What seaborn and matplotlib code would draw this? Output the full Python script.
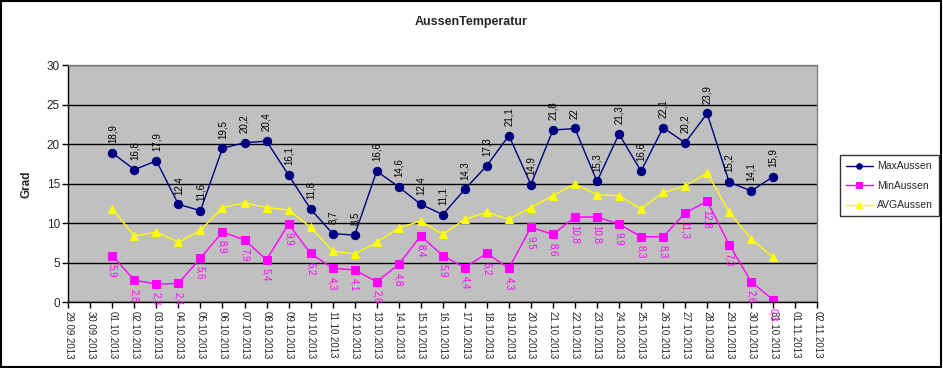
import numpy as np
import pandas as pd
import matplotlib
matplotlib.use("Agg")
import matplotlib.pyplot as plt
import matplotlib.dates as mdates
from matplotlib.patches import Rectangle
import seaborn as sns

# Tageswerte Oktober 2013
tage = pd.date_range("2013-10-01", "2013-10-31", freq="D")
max_aussen = [18.9, 16.8, 17.9, 12.4, 11.6, 19.5, 20.2, 20.4, 16.1, 11.8, 8.7, 8.5,
              16.6, 14.6, 12.4, 11.1, 14.3, 17.3, 21.1, 14.9, 21.8, 22.0, 15.3, 21.3,
              16.6, 22.1, 20.2, 23.9, 15.2, 14.1, 15.9]
min_aussen = [5.9, 2.8, 2.3, 2.4, 5.6, 8.9, 7.9, 5.4, 9.9, 6.2, 4.3, 4.1,
              2.6, 4.8, 8.4, 5.9, 4.4, 6.2, 4.3, 9.5, 8.6, 10.8, 10.8, 9.9,
              8.3, 8.3, 11.3, 12.8, 7.3, 2.6, 0.3]
avg_aussen = [11.8, 8.4, 8.9, 7.6, 9.1, 12.0, 12.6, 12.0, 11.7, 9.5, 6.5, 6.1,
              7.6, 9.4, 10.3, 8.6, 10.5, 11.4, 10.5, 12.0, 13.5, 15.0, 13.6, 13.5,
              11.8, 13.9, 14.7, 16.4, 11.4, 8.0, 5.7]

df = pd.DataFrame({"Datum": tage, "MaxAussen": max_aussen,
                   "MinAussen": min_aussen, "AVGAussen": avg_aussen})

sns.set_style("white")
plt.rcParams["font.family"] = ["Liberation Sans", "DejaVu Sans"]

fig = plt.figure(figsize=(9.43, 3.68), dpi=100)
ax = fig.add_axes([0.0724, 0.1785, 0.7943, 0.6441])
ax.set_facecolor("#C0C0C0")

sns.lineplot(data=df, x="Datum", y="MaxAussen", ax=ax, color="#000080", lw=1,
             marker="o", markersize=6, markeredgecolor="#000080", label="MaxAussen")
sns.lineplot(data=df, x="Datum", y="MinAussen", ax=ax, color="#FF00FF", lw=1,
             marker="s", markersize=6, markeredgecolor="#FF00FF", label="MinAussen")
sns.lineplot(data=df, x="Datum", y="AVGAussen", ax=ax, color="#FFFF00", lw=1,
             marker="^", markersize=6, markeredgecolor="#FFFF00", label="AVGAussen")

def fmt(v):
    s = ("%.1f" % v).replace(".", ",")
    return s[:-2] if s.endswith(",0") else s

for d, v in zip(df["Datum"], df["MaxAussen"]):
    ax.annotate(fmt(v), (d, v), xytext=(0, 7), textcoords="offset points",
                rotation=90, ha="center", va="bottom", fontsize=7, color="black")
for d, v in zip(df["Datum"], df["MinAussen"]):
    ax.annotate(fmt(v), (d, v), xytext=(0, -6), textcoords="offset points",
                rotation=-90, ha="center", va="top", fontsize=7, color="#FF00FF")

ax.set_xlim(pd.Timestamp("2013-09-29"), pd.Timestamp("2013-11-02"))
ax.set_ylim(0, 30)
ax.set_yticks(range(0, 31, 5))
ax.xaxis.set_major_locator(mdates.DayLocator())
ax.xaxis.set_major_formatter(mdates.DateFormatter("%d.%m.%Y"))
plt.setp(ax.get_xticklabels(), rotation=-90, ha="center", va="top", fontsize=7)
plt.setp(ax.get_yticklabels(), fontsize=8.5)
ax.tick_params(axis="both", direction="out", length=4, width=1, color="black",
               bottom=True, left=True, pad=2)
ax.grid(axis="y", color="black", lw=1)
ax.set_axisbelow(True)
for s in ["left", "bottom"]:
    ax.spines[s].set_color("black")
    ax.spines[s].set_linewidth(1)
for s in ["top", "right"]:
    ax.spines[s].set_color("#808080")
    ax.spines[s].set_linewidth(1)

ax.set_xlabel("")
ax.set_ylabel("Grad", fontsize=8.5, fontweight="bold", labelpad=10)
fig.text(471 / 943, 1 - 22 / 368, "AussenTemperatur", fontsize=9, fontweight="bold",
         ha="center", va="center")

ax.legend_.remove()
h, l = ax.get_legend_handles_labels()
leg = fig.legend(h, l, loc="upper left", bbox_to_anchor=(835 / 943, 1 - 150 / 368),
                 fontsize=7.5, frameon=True, fancybox=False, edgecolor="black",
                 handlelength=2.5, borderpad=0.6, labelspacing=0.9, handletextpad=0.4)
leg.get_frame().set_linewidth(1)
for lh in leg.legend_handles:
    lh.set_markersize(4)

fig.patches.append(Rectangle((0.001, 0.002), 0.997, 0.995, transform=fig.transFigure,
                             fill=False, edgecolor="black", lw=1.5))

fig.savefig("out.png", dpi=100)
